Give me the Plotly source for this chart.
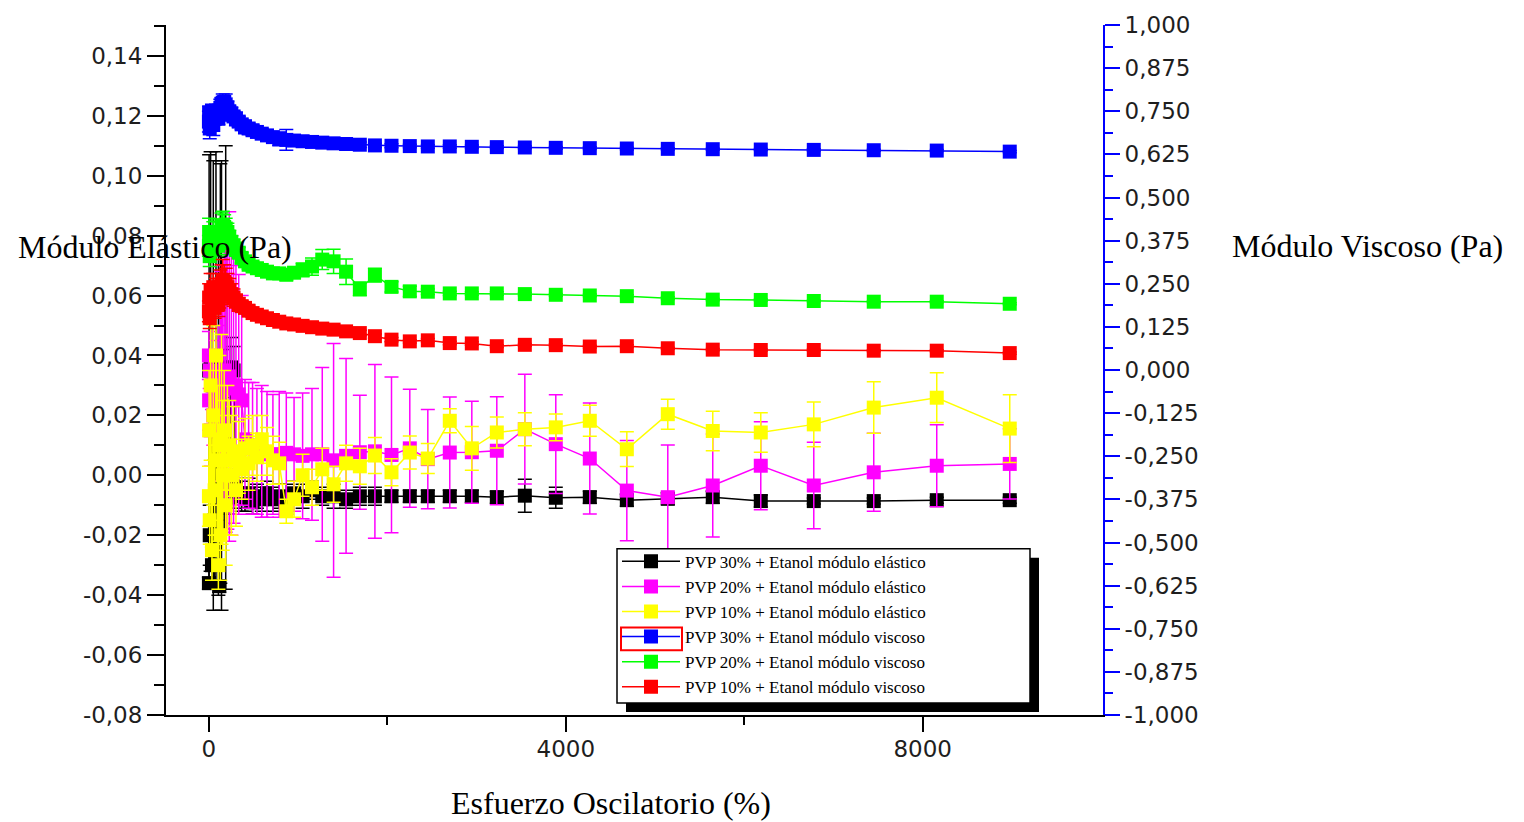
import plotly.graph_objects as go

# Oscillatory stress sweep (%), shared by every series
strain = [1, 3, 10, 20, 35, 50, 65, 80, 97,
          107, 117, 129, 142, 156, 172, 189, 208, 229, 252,
          277, 304, 335, 368, 405, 446, 490, 539, 593, 652,
          718, 789, 868, 955, 1051, 1156, 1271, 1398, 1538, 1692,
          1861, 2047, 2252, 2454, 2700, 2947, 3227, 3541, 3888, 4269,
          4684, 5143, 5647, 6185, 6779, 7451, 8157, 8975]

# Elastic modulus (Pa), left axis
g1_pvp30 = [-0.036, 0.035, -0.020, 0.038, -0.030, 0.030, -0.015, 0.036, -0.005,
            0.020, -0.037, 0.034, 0.030, 0.012, -0.010, 0.036, -0.005, -0.008, 0.036,
            0.035, -0.004, -0.006, -0.007, -0.008, -0.006, -0.009, -0.007, -0.008, -0.006,
            -0.008, -0.007, -0.008, -0.006, -0.007, -0.005, -0.007, -0.007, -0.008, -0.007,
            -0.007, -0.007, -0.007, -0.007, -0.007, -0.007, -0.0073, -0.0068, -0.0075, -0.0073,
            -0.0083, -0.0078, -0.0073, -0.0086, -0.0086, -0.0086, -0.0083, -0.0083]
e1_pvp30 = [0.002, 0.072, 0.010, 0.070, 0.006, 0.075, 0.020, 0.072, 0.010,
            0.060, 0.002, 0.070, 0.075, 0.030, 0.010, 0.074, 0.006, 0.005, 0.010,
            0.008, 0.006, 0.005, 0.005, 0.004, 0.005, 0.004, 0.004, 0.004, 0.004,
            0.004, 0.004, 0.005, 0.004, 0.004, 0.003, 0.003, 0.004, 0.003, 0.003,
            0.003, 0.002, 0.002, 0.002, 0.002, 0.002, 0.002, 0.0055, 0.0035, 0.002,
            0.002, 0.002, 0.002, 0.002, 0.001, 0.001, 0.001, 0.001]

g1_pvp20 = [0.040, 0.025, 0.035, 0.015, 0.030, 0.020, 0.028, 0.033, 0.022,
            0.030, 0.018, 0.028, 0.033, 0.030, 0.035, 0.031, 0.032, 0.033, 0.030,
            0.029, 0.030, 0.027, 0.025, 0.012, 0.010, 0.009, 0.008, 0.008, 0.007,
            0.007, 0.007, 0.0075, 0.007, 0.0065, 0.007, 0.007, 0.005, 0.0065, 0.0077,
            0.008, 0.0068, 0.009, 0.0054, 0.0076, 0.0077, 0.0082, 0.0154, 0.0104, 0.0056,
            -0.0051, -0.0073, -0.0034, 0.0032, -0.0034, 0.001, 0.0032, 0.0038]
e1_pvp20 = [0.008, 0.010, 0.006, 0.012, 0.008, 0.010, 0.007, 0.012, 0.009,
            0.020, 0.015, 0.030, 0.035, 0.040, 0.045, 0.050, 0.050, 0.055, 0.050,
            0.045, 0.040, 0.040, 0.035, 0.020, 0.021, 0.022, 0.021, 0.022, 0.021,
            0.020, 0.021, 0.020, 0.019, 0.021, 0.022, 0.029, 0.039, 0.0325, 0.019,
            0.029, 0.026, 0.0197, 0.0166, 0.0185, 0.017, 0.018, 0.0183, 0.0165, 0.0185,
            0.0167, 0.0174, 0.0172, 0.0147, 0.0144, 0.013, 0.0137, 0.0117]

g1_pvp10 = [-0.007, 0.015, -0.015, 0.030, -0.025, 0.020, -0.005, 0.040, 0.005,
            -0.030, 0.010, -0.020, 0.012, 0.000, 0.015, -0.010, 0.005, 0.010, 0.000,
            0.008, -0.005, 0.006, 0.002, 0.009, 0.004, 0.010, 0.006, 0.012, 0.008,
            0.005, 0.004, -0.012, -0.008, 0.000, -0.004, 0.002, -0.003, 0.004, 0.003,
            0.0066, 0.001, 0.0076, 0.0056, 0.0182, 0.009, 0.0143, 0.0154, 0.016, 0.0182,
            0.0087, 0.0204, 0.0148, 0.0143, 0.017, 0.0226, 0.0259, 0.0156]
e1_pvp10 = [0.010, 0.020, 0.008, 0.025, 0.010, 0.030, 0.015, 0.020, 0.025,
            0.008, 0.030, 0.015, 0.035, 0.025, 0.020, 0.020, 0.025, 0.015, 0.020,
            0.015, 0.012, 0.012, 0.010, 0.010, 0.009, 0.010, 0.008, 0.008, 0.008,
            0.008, 0.007, 0.004, 0.006, 0.007, 0.006, 0.007, 0.006, 0.006, 0.006,
            0.006, 0.0045, 0.0055, 0.005, 0.004, 0.0073, 0.0052, 0.0055, 0.0045, 0.0052,
            0.0058, 0.005, 0.0066, 0.0066, 0.0075, 0.0086, 0.0083, 0.0113]

# Viscous modulus (Pa), right axis
g2_pvp30 = [0.72, 0.745, 0.70, 0.735, 0.75, 0.71, 0.73, 0.745, 0.74,
            0.73, 0.75, 0.76, 0.77, 0.775, 0.775, 0.77, 0.76, 0.75, 0.742,
            0.735, 0.728, 0.72, 0.712, 0.705, 0.70, 0.695, 0.69, 0.685, 0.68,
            0.675, 0.67, 0.667, 0.665, 0.663, 0.661, 0.659, 0.657, 0.655, 0.653,
            0.651, 0.65, 0.649, 0.648, 0.648, 0.647, 0.646, 0.645, 0.644, 0.643,
            0.642, 0.641, 0.640, 0.639, 0.638, 0.637, 0.636, 0.633]
e2_pvp30 = [0.03, 0.02, 0.03, 0.025, 0.02, 0.03, 0.02, 0.025, 0.02,
            0.02, 0.02, 0.025, 0.02, 0.025, 0.02, 0.03, 0.02, 0.015, 0.02,
            0.015, 0.02, 0.015, 0.015, 0.02, 0.015, 0.015, 0.012, 0.015, 0.012,
            0.012, 0.02, 0.03, 0.012, 0.01, 0.01, 0.008, 0.008, 0.008, 0.008,
            0.006, 0.006, 0.005, 0.005, 0.005, 0.005, 0.004, 0.004, 0.004, 0.004,
            0.004, 0.003, 0.003, 0.003, 0.003, 0.003, 0.003, 0.003]

g2_pvp20 = [0.36, 0.40, 0.33, 0.38, 0.35, 0.39, 0.37, 0.40, 0.38,
            0.36, 0.37, 0.39, 0.41, 0.42, 0.415, 0.41, 0.40, 0.385, 0.37,
            0.36, 0.35, 0.34, 0.325, 0.315, 0.305, 0.30, 0.295, 0.29, 0.285,
            0.28, 0.28, 0.276, 0.282, 0.29, 0.30, 0.32, 0.315, 0.285, 0.235,
            0.275, 0.241, 0.228, 0.227, 0.222, 0.222, 0.222, 0.220, 0.218, 0.216,
            0.214, 0.208, 0.204, 0.203, 0.200, 0.198, 0.198, 0.192]
e2_pvp20 = [0.03, 0.04, 0.03, 0.035, 0.03, 0.04, 0.03, 0.035, 0.03,
            0.03, 0.035, 0.04, 0.045, 0.04, 0.035, 0.03, 0.025, 0.02, 0.02,
            0.02, 0.02, 0.015, 0.015, 0.015, 0.012, 0.012, 0.015, 0.012, 0.012,
            0.012, 0.012, 0.015, 0.015, 0.02, 0.025, 0.029, 0.035, 0.037, 0.02,
            0.02, 0.015, 0.015, 0.008, 0.006, 0.005, 0.005, 0.005, 0.004, 0.004,
            0.004, 0.004, 0.003, 0.003, 0.003, 0.003, 0.003, 0.003]

g2_pvp10 = [0.17, 0.21, 0.15, 0.23, 0.19, 0.24, 0.18, 0.22, 0.21,
            0.19, 0.22, 0.24, 0.25, 0.26, 0.255, 0.25, 0.24, 0.23, 0.22,
            0.21, 0.20, 0.19, 0.185, 0.18, 0.172, 0.165, 0.16, 0.155, 0.15,
            0.145, 0.14, 0.135, 0.132, 0.128, 0.124, 0.12, 0.117, 0.112, 0.107,
            0.098, 0.088, 0.083, 0.086, 0.078, 0.077, 0.069, 0.073, 0.072, 0.068,
            0.069, 0.063, 0.059, 0.058, 0.058, 0.056, 0.056, 0.049]
e2_pvp10 = [0.03, 0.04, 0.03, 0.05, 0.035, 0.04, 0.03, 0.045, 0.04,
            0.035, 0.04, 0.05, 0.055, 0.06, 0.05, 0.045, 0.04, 0.035, 0.03,
            0.025, 0.02, 0.02, 0.015, 0.015, 0.012, 0.012, 0.01, 0.01, 0.01,
            0.008, 0.008, 0.008, 0.008, 0.008, 0.008, 0.008, 0.008, 0.008, 0.008,
            0.006, 0.006, 0.005, 0.005, 0.005, 0.005, 0.004, 0.004, 0.004, 0.004,
            0.004, 0.003, 0.003, 0.003, 0.003, 0.003, 0.003, 0.003]

series_names = ["PVP 30% + Etanol módulo elástico",
                "PVP 20% + Etanol módulo elástico",
                "PVP 10% + Etanol módulo elástico",
                "PVP 30% + Etanol módulo viscoso",
                "PVP 20% + Etanol módulo viscoso",
                "PVP 10% + Etanol módulo viscoso"]

# Axis ticks and labels
x_ticks = [0, 4000, 8000]
x_labels = ["0", "4000", "8000"]
x_minor = [2000, 6000]
left_ticks = [-0.08, -0.06, -0.04, -0.02, 0.0, 0.02, 0.04, 0.06, 0.08, 0.10, 0.12, 0.14]
left_labels = ["-0,08", "-0,06", "-0,04", "-0,02", "0,00", "0,02", "0,04",
               "0,06", "0,08", "0,10", "0,12", "0,14"]
right_ticks = [-1.0, -0.875, -0.75, -0.625, -0.5, -0.375, -0.25, -0.125, 0.0,
               0.125, 0.25, 0.375, 0.5, 0.625, 0.75, 0.875, 1.0]
right_labels = ["-1,000", "-0,875", "-0,750", "-0,625", "-0,500", "-0,375",
                "-0,250", "-0,125", "0,000", "0,125", "0,250", "0,375",
                "0,500", "0,625", "0,750", "0,875", "1,000"]

left_minor = [round(t + 0.01, 3) for t in left_ticks]
right_minor = [t + 0.0625 for t in right_ticks[:-1]]

SERIF = "Liberation Serif, Times New Roman, serif"
TICKFONT = dict(family="DejaVu Sans, sans-serif", size=23, color="#1e1e1e")

fig = go.Figure()

traces = [
    (g1_pvp30, e1_pvp30, "#000000", "y"),
    (g1_pvp20, e1_pvp20, "#FF00FF", "y"),
    (g1_pvp10, e1_pvp10, "#FFFF00", "y"),
    (g2_pvp30, e2_pvp30, "#0000FF", "y2"),
    (g2_pvp20, e2_pvp20, "#00FF00", "y2"),
    (g2_pvp10, e2_pvp10, "#FF0000", "y2"),
]
for (vals, errs, color, yax), name in zip(traces, series_names):
    fig.add_trace(go.Scatter(
        x=strain, y=vals, name=name, yaxis=yax, xaxis="x",
        mode="lines+markers",
        line=dict(color=color, width=1.5),
        marker=dict(symbol="square", size=14, color=color, line=dict(width=0)),
        error_y=dict(type="data", array=errs, visible=True,
                     color=color, thickness=1.5, width=7),
    ))

x_range = [-480, 10020]

# plot-area pixel geometry, used to place paper-referenced decorations
L, R, T, B = 166, 1103, 22, 715
def px(xp):
    return (xp - L) / (R - L)
def py(yp):
    return (B - yp) / (B - T)

# legend entries anchor, and the framed box drawn around them (pixels)
LEG_X, LEG_Y = 617, 543
BOX_X, BOX_Y, BOX_W, BOX_H = 617, 548, 413, 155
SHADOW = 9

fig.update_layout(
    width=1524, height=822,
    margin=dict(l=L, r=1524 - R, t=T, b=822 - B, pad=0),
    paper_bgcolor="white", plot_bgcolor="white",
    showlegend=True,
    xaxis=dict(
        range=x_range, showgrid=False, zeroline=False,
        showline=True, linecolor="black", linewidth=2,
        ticks="outside", ticklen=15, tickwidth=2, tickcolor="black",
        tickvals=x_ticks, ticktext=x_labels, tickfont=TICKFONT,
        ticklabelstandoff=-3,
        minor=dict(tickvals=x_minor, ticks="outside", ticklen=8,
                   tickwidth=2, tickcolor="black"),
    ),
    xaxis2=dict(
        range=x_range, overlaying="x", side="top", anchor="y",
        showgrid=False, zeroline=False, showticklabels=False,
        showline=True, linecolor="black", linewidth=2,
        ticks="inside", ticklen=10, tickwidth=2, tickcolor="black",
        tickvals=x_ticks,
    ),
    yaxis=dict(
        range=[-0.08, 0.1503], showgrid=False, zeroline=False,
        showline=True, linecolor="black", linewidth=2,
        ticks="outside", ticklen=17, tickwidth=2, tickcolor="black",
        tickvals=left_ticks, ticktext=left_labels, tickfont=TICKFONT,
        minor=dict(tickvals=left_minor, ticks="outside", ticklen=10,
                   tickwidth=2, tickcolor="black"),
    ),
    yaxis2=dict(
        range=[-1.0, 1.0], overlaying="y", side="right", anchor="x",
        showgrid=False, zeroline=False,
        showline=True, linecolor="#0000FF", linewidth=2,
        ticks="outside", ticklen=15, tickwidth=2, tickcolor="#0000FF",
        tickvals=right_ticks, ticktext=right_labels, tickfont=TICKFONT,
        minor=dict(tickvals=right_minor, ticks="outside", ticklen=8,
                   tickwidth=2, tickcolor="#0000FF"),
    ),
    legend=dict(
        x=px(LEG_X), y=py(LEG_Y), xanchor="left", yanchor="top",
        bgcolor="rgba(0,0,0,0)", borderwidth=0,
        font=dict(family=SERIF, size=17, color="black"),
        traceorder="normal", itemwidth=58,
    ),
    annotations=[
        dict(text="Módulo Elástico (Pa)", xref="paper", yref="paper",
             x=px(16), y=py(245), xanchor="left", yanchor="middle",
             showarrow=False, font=dict(family=SERIF, size=32, color="black")),
        dict(text="Módulo Viscoso (Pa)", xref="paper", yref="paper",
             x=px(1230), y=py(244), xanchor="left", yanchor="middle",
             showarrow=False, font=dict(family=SERIF, size=32, color="black")),
        dict(text="Esfuerzo Oscilatorio (%)", xref="paper", yref="paper",
             x=px(611), y=py(803), xanchor="center", yanchor="middle",
             showarrow=False, font=dict(family=SERIF, size=32, color="black")),
    ],
    shapes=[
        # drop shadow behind the legend frame
        dict(type="rect", xref="paper", yref="paper", layer="above",
             x0=px(BOX_X + SHADOW), x1=px(BOX_X + BOX_W + SHADOW),
             y0=py(BOX_Y + BOX_H + SHADOW), y1=py(BOX_Y + SHADOW),
             fillcolor="black", line=dict(width=0)),
        # white legend frame with black border
        dict(type="rect", xref="paper", yref="paper", layer="above",
             x0=px(BOX_X), x1=px(BOX_X + BOX_W),
             y0=py(BOX_Y + BOX_H), y1=py(BOX_Y),
             fillcolor="white", line=dict(color="black", width=1.5)),
        # red frame highlighting the fourth legend key
        dict(type="rect", xref="paper", yref="paper", layer="above",
             x0=px(621), x1=px(682), y0=py(650), y1=py(627),
             fillcolor="rgba(0,0,0,0)", line=dict(color="#FF0000", width=2)),
    ],
)

fig.write_html("out.html")
